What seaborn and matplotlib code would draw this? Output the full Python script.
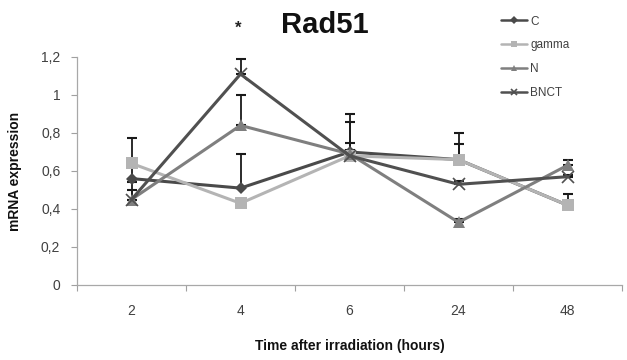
import numpy as np
import pandas as pd
import matplotlib
matplotlib.use("Agg")
import matplotlib.pyplot as plt
import seaborn as sns

times = ["2", "4", "6", "24", "48"]
series = ["C", "gamma", "N", "BNCT"]
C_vals = [0.56, 0.51, 0.70, 0.66, 0.42]
gamma_vals = [0.64, 0.43, 0.68, 0.66, 0.42]
N_vals = [0.45, 0.84, 0.69, 0.33, 0.63]
BNCT_vals = [0.45, 1.11, 0.68, 0.53, 0.57]
C_err = [0.06, 0.18, 0.20, 0.08, 0.02]
gamma_err = [0.135, 0.02, 0.07, 0.14, 0.06]
N_err = [0.09, 0.16, 0.17, 0.02, 0.03]
BNCT_err = [0.05, 0.08, 0.03, 0.02, 0.01]
yticks = [0, 0.2, 0.4, 0.6, 0.8, 1.0, 1.2]
ytick_labels = ["0", "0,2", "0,4", "0,6", "0,8", "1", "1,2"]

vals = {"C": C_vals, "gamma": gamma_vals, "N": N_vals, "BNCT": BNCT_vals}
errs = {"C": C_err, "gamma": gamma_err, "N": N_err, "BNCT": BNCT_err}
colors = {"C": "#4a4a4a", "gamma": "#b4b4b4", "N": "#7f7f7f", "BNCT": "#505050"}
markers = {"C": "D", "gamma": "s", "N": "^", "BNCT": "x"}
msizes = {"C": 6, "gamma": 9, "N": 8, "BNCT": 9}

pos = np.arange(len(times))
df = pd.DataFrame([
    {"pos": p, "time": t, "series": s, "value": vals[s][i]}
    for s in series for i, (p, t) in enumerate(zip(pos, times))
])

sns.set_theme(style="white")
plt.rcParams["font.family"] = ["Liberation Sans", "DejaVu Sans"]

fig = plt.figure(figsize=(6.27, 3.6), dpi=100)
ax = fig.add_axes([77/627, 1-285/360, (622-77)/627, (285-57)/360])

# error bars (plus direction)
for s in series:
    ax.errorbar(pos, vals[s], yerr=[np.zeros(len(pos)), errs[s]], fmt="none",
                ecolor="#1a1a1a", elinewidth=1.3, capsize=3.5, capthick=1.5, zorder=1)

for s in series:
    sub = df[df["series"] == s]
    sns.lineplot(data=sub, x="pos", y="value", ax=ax, color=colors[s], lw=2.2,
                 marker=markers[s], markersize=msizes[s], markeredgewidth=1.2 if s == "BNCT" else 0,
                 markeredgecolor=colors[s] if s == "BNCT" else "none",
                 label=s, zorder=2, sort=False)

ax.set_xlim(-0.5, len(times) - 0.5)
ax.set_ylim(0, 1.2)
ax.set_yticks(yticks)
ax.set_yticklabels(ytick_labels)
ax.set_xticks(pos)
ax.set_xticklabels(times)
ax.set_xticks(np.arange(len(times) + 1) - 0.5, minor=True)
ax.tick_params(axis="x", which="major", length=0, pad=14, labelsize=10, labelcolor="#404040")
ax.tick_params(axis="x", which="minor", length=4, width=0.8, color="#a0a0a0", direction="out", bottom=True)
ax.tick_params(axis="y", length=4, width=0.8, color="#a0a0a0", direction="out", left=True,
               labelsize=10, labelcolor="#404040", pad=8)

for sp in ["top", "right"]:
    ax.spines[sp].set_visible(False)
for sp in ["left", "bottom"]:
    ax.spines[sp].set_color("#a8a8a8")
    ax.spines[sp].set_linewidth(0.9)

ax.set_xlabel("Time after irradiation (hours)", fontsize=10, fontweight="bold", color="#111111", labelpad=15)
ax.set_ylabel("mRNA expression", fontsize=10, fontweight="bold", color="#111111", labelpad=14)

fig.text(325/627, 1-25/360, "Rad51", ha="center", va="center", fontsize=21, fontweight="bold", color="#111111")
fig.text(238/627, 1-28/360, "*", ha="center", va="center", fontsize=12, fontweight="bold", color="#222222")

leg = ax.legend(loc="upper left", bbox_to_anchor=(490/627, 1-5/360), bbox_transform=fig.transFigure,
                frameon=False, fontsize=8.5, handlelength=2.2, labelspacing=1.0, handletextpad=0.3,
                labelcolor="#404040")
for h in leg.legend_handles:
    h.set_linewidth(1.8)
    h.set_markersize(4)

fig.savefig("out.png", dpi=100)
